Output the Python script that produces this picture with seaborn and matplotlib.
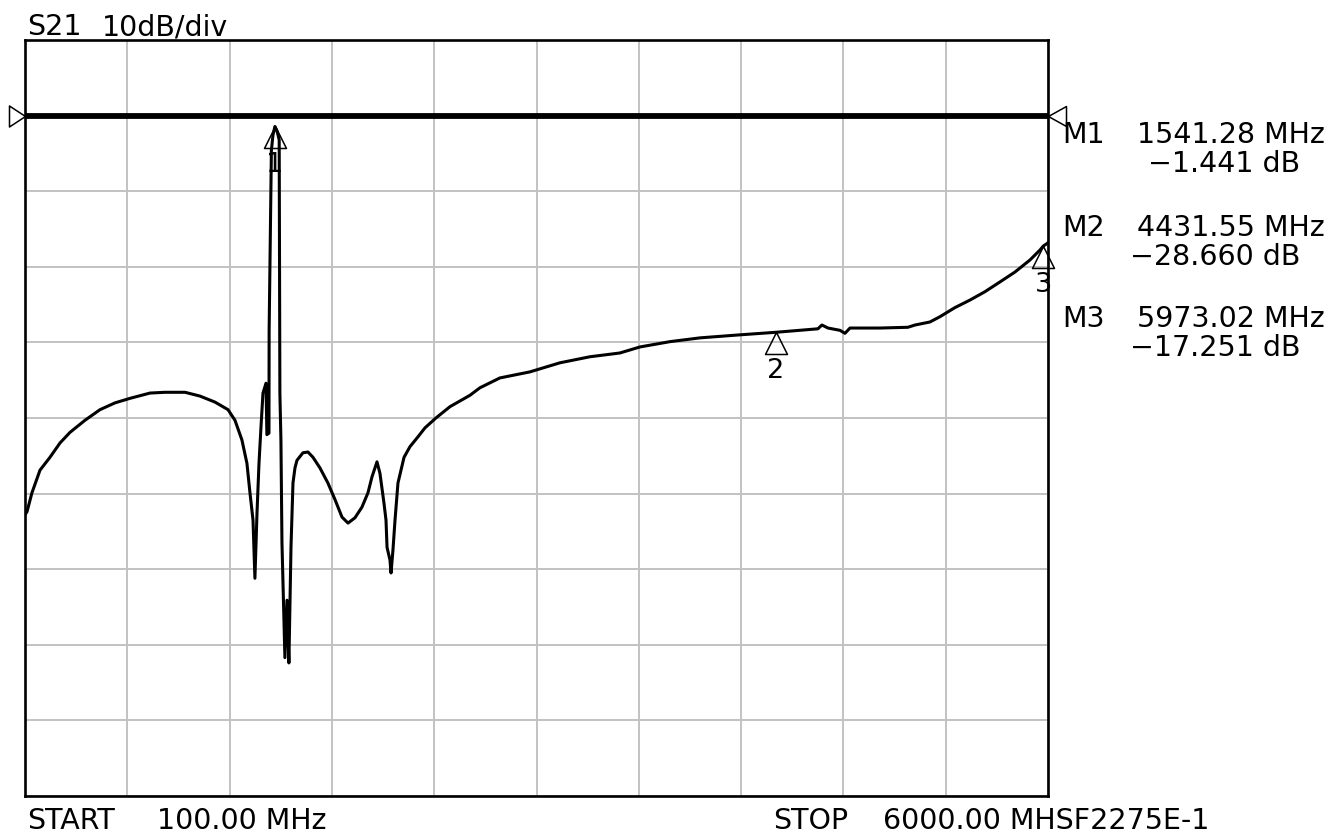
import numpy as np
import seaborn as sns
from matplotlib import pyplot as plt

# trace (MHz, dB)
freq_mhz = [100, 111.5, 140, 186.5, 244, 302, 359.5, 446, 532.5, 619, 705.5, 821, 907, 1023,
            1109, 1196, 1271, 1311, 1351, 1380, 1397.5, 1415, 1426, 1438, 1449.5, 1461, 1472.5,
            1490, 1495, 1507, 1508, 1521, 1530, 1541.28, 1553, 1566, 1570, 1576, 1582, 1599, 1611,
            1622, 1634, 1645.5,
            1657, 1668.5, 1703, 1732, 1761, 1801, 1847, 1888, 1928, 1963, 2003, 2043, 2078, 2101,
            2130, 2147, 2170, 2182, 2188, 2205, 2211, 2222, 2234, 2251, 2286, 2320, 2366, 2407,
            2470, 2551, 2666, 2724, 2839, 3012, 3185, 3358, 3531, 3647, 3820, 3993, 4223, 4431.55,
            4569, 4673, 4696, 4731, 4800, 4829, 4858, 5031, 5192, 5233, 5319, 5377, 5463, 5550,
            5636, 5723, 5809, 5896, 5953, 5973.02, 5996, 6000]
s21_db = [-52.8, -52.4, -49.9, -46.9, -45.2, -43.3, -41.9, -40.3, -38.9, -38.0, -37.4, -36.7, -36.6, -36.6,
          -37.1, -37.9, -38.9, -40.3, -42.9, -46.0, -49.9, -53.5, -61.2, -52.6, -46.0, -41.2, -36.7,
          -35.4, -42.2, -42.0, -28.4, -4.6, -2.6, -1.441, -2.0, -3.2, -36.7, -42.9, -56.5, -71.7, -64.1,
          -72.4, -57.1, -48.6,
          -46.6, -45.6, -44.6, -44.5, -45.2, -46.6, -48.6, -50.8, -53.1, -53.9, -53.2, -51.8, -49.9, -47.8,
          -45.8, -47.3, -51.2, -53.5, -57.1, -58.8, -60.5, -57.5, -53.5, -48.6, -45.2, -43.8, -42.5, -41.3,
          -40.0, -38.5, -37.0, -36.0, -34.7, -33.9, -32.7, -31.9, -31.4, -30.6, -29.9, -29.4, -29.0, -28.66,
          -28.4, -28.2, -27.7, -28.1, -28.4, -28.8, -28.1, -28.1, -28.0, -27.7, -27.3, -26.6, -25.4, -24.4,
          -23.3, -22.0, -20.7, -19.1, -17.8, -17.251, -16.9, -16.8]

marker_names = ["1", "2", "3"]
marker_freq = [1541.28, 4431.55, 5973.02]
marker_db = [-1.441, -28.660, -17.251]

start_mhz, stop_mhz = 100.0, 6000.0
ref_level_db = 0
top_db, scale_db = 10, 10
n_div = 10

sns.set_style("white")
plt.rcParams['font.family'] = ['DejaVu Sans']
plt.rcParams['text.color'] = 'black'
FS = 20.5

W, H = 1343, 838
fig = plt.figure(figsize=(W / 100, H / 100), dpi=100)
ax = fig.add_axes([25 / W, 42 / H, 1023 / W, 756 / H])


def px_marker(verts):
    # custom marker with its tip at the data point; returns (verts, markersize)
    m = max(abs(v) for p in verts for v in p)
    return verts, 2 * m * 0.72


sns.lineplot(x=freq_mhz, y=s21_db, ax=ax, color="black", lw=2.2,
             sort=False, estimator=None, legend=False, zorder=4)
ax.axhline(ref_level_db, color="black", lw=4.2, zorder=3)

ax.set_xlim(start_mhz, stop_mhz)
ax.set_ylim(top_db - n_div * scale_db, top_db)
ax.set_xticks(np.linspace(start_mhz, stop_mhz, n_div + 1))
ax.set_yticks(np.arange(top_db - n_div * scale_db, top_db + 1, scale_db))
ax.tick_params(length=0, labelbottom=False, labelleft=False)
ax.grid(True, color="#c2c2c2", lw=1.4)
ax.set_xlabel("")
ax.set_ylabel("")
for sp in ax.spines.values():
    sp.set_color("black")
    sp.set_linewidth(1.9)
    sp.set_zorder(5)

# reference level arrows on both sides
lv, lms = px_marker([(0, 0), (-16, 10.5), (-16, -10.5), (0, 0)])
rv, rms = px_marker([(0, 0), (18, -10), (18, 10), (0, 0)])
ax.plot([start_mhz], [ref_level_db], marker=lv, ms=lms, mfc="none", mec="black",
        mew=1.1, clip_on=False, ls="none", zorder=6)
ax.plot([stop_mhz], [ref_level_db], marker=rv, ms=rms, mfc="none", mec="black",
        mew=1.1, clip_on=False, ls="none", zorder=6)

# markers
tv, tms = px_marker([(0, 0), (-11, -22), (11, -22), (0, 0)])
for name, f, d in zip(marker_names, marker_freq, marker_db):
    ax.plot([f], [d], marker=tv, ms=tms, mfc="none", mec="black", mew=1.1,
            ls="none", clip_on=False, zorder=6)
    ax.annotate(name, xy=(f, d), xytext=(0, -39), textcoords="offset pixels",
                ha="center", va="center", fontsize=FS - 1, color="black", zorder=7)


def ftext(x, y, s, ha="left"):
    fig.text(x / W, 1 - y / H, s, ha=ha, va="baseline", fontsize=FS, color="black")


ftext(27, 35, "S21")
ftext(102, 35, "10dB/div")
ftext(27, 829, "START")
ftext(157, 829, "100.00 MHz")
ftext(773, 829, "STOP")
ftext(883, 829, "6000.00 MHSF2275E-1")

rows = [143, 236, 327]
for i, (f, d) in enumerate(zip(marker_freq, marker_db)):
    y0 = rows[i]
    ftext(1062, y0, f"M{i + 1}")
    ftext(1325, y0, f"{f:.2f} MHz", ha="right")
    ftext(1300, y0 + 29, f"{d:.3f} dB".replace("-", "\u2212"), ha="right")

fig.savefig("out.png", dpi=100)
